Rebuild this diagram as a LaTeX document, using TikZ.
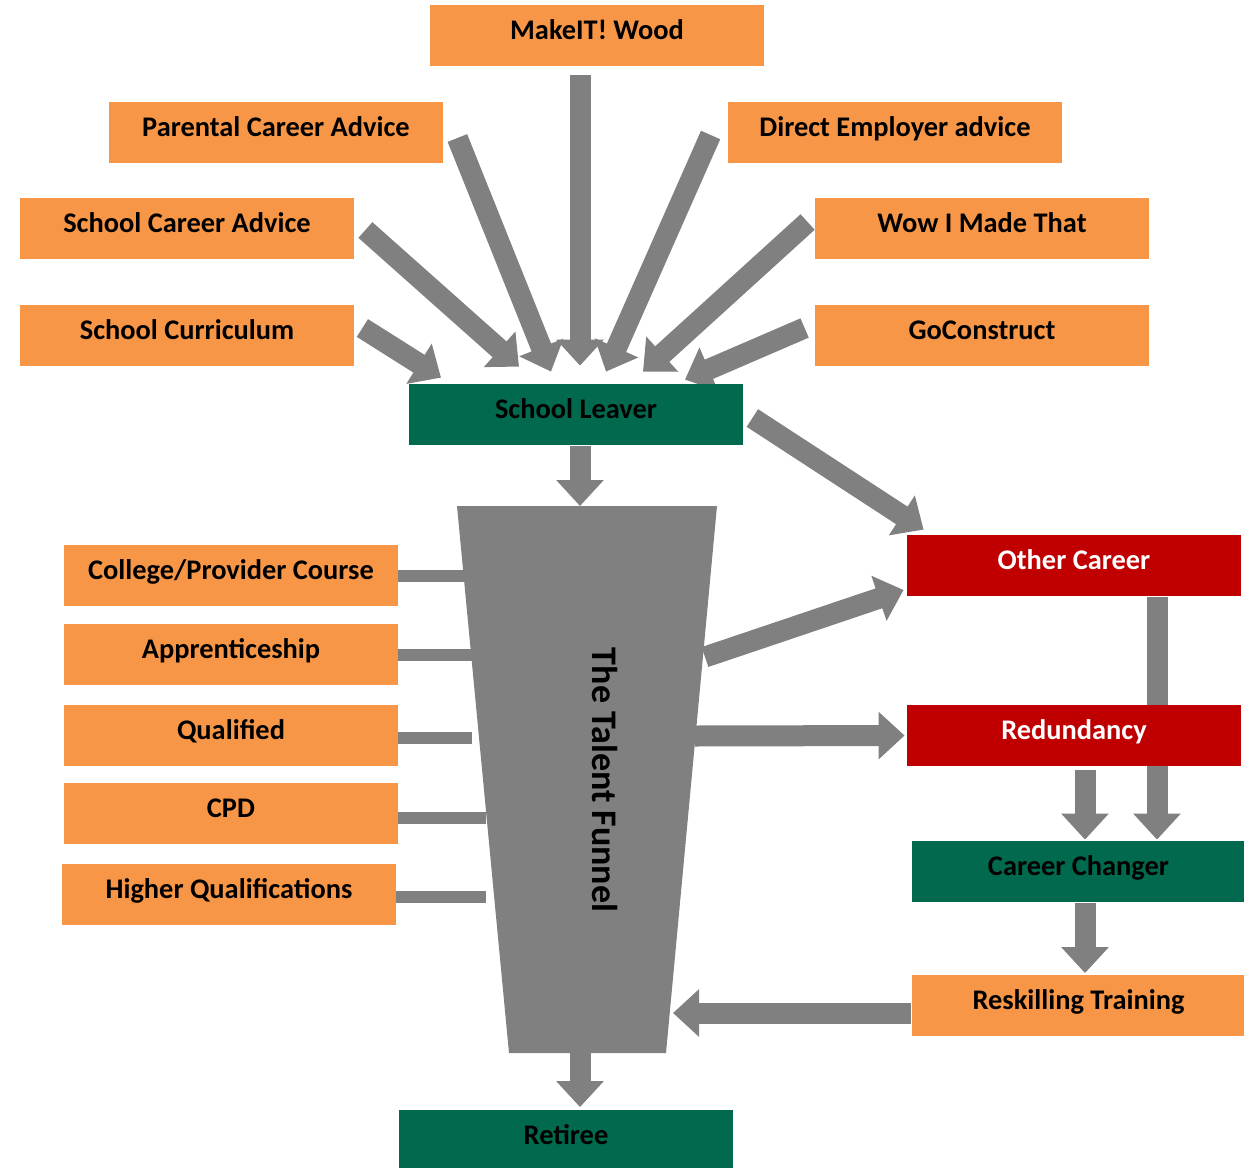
\documentclass[tikz,border=0pt]{standalone}
\usepackage{fontspec}
\setmainfont{Carlito}
\usetikzlibrary{arrows.meta,backgrounds}

\definecolor{BoxOrange}{HTML}{F79646}
\definecolor{BoxGreen}{HTML}{00694E}
\definecolor{BoxRed}{HTML}{C00000}
\definecolor{FlowGray}{HTML}{808080}

\begin{document}
\begin{tikzpicture}[
    x=0.5pt,y=-0.5pt,
    Box/.style={minimum width=167pt,minimum height=30.5pt,inner sep=0pt,text height=0.7em,text depth=0.3em,font=\fontsize{14.2}{17}\selectfont\bfseries},
    Source/.style={Box,fill=BoxOrange},
    Stage/.style={Box,fill=BoxGreen},
    Exit/.style={Box,fill=BoxRed,text=white},
    Flow/.style={draw=FlowGray,line width=10.5pt,-{Triangle[width=23pt,length=13pt]}},
    Feed/.style={draw=FlowGray,line width=6pt},
    ]

    \useasboundingbox (0,0) rectangle (1244,1168);

    \node[Source] (mw)  at (597,35.5)   {MakeIT! Wood};
    \node[Source] (pca) at (276,132.5)  {Parental Career Advice};
    \node[Source] (dea) at (895,132.5)  {Direct Employer advice};
    \node[Source] (sca) at (187,228.5)  {School Career Advice};
    \node[Source] (wow) at (982,228.5)  {Wow I Made That};
    \node[Source] (scu) at (187,335.5)  {School Curriculum};
    \node[Source] (goc) at (982,335.5)  {GoConstruct};

    \node[Stage]  (sl)  at (576,414.5)  {School Leaver};
    \node[Exit]   (oc)  at (1074,565.5) {Other Career};
    \node[Exit]   (red) at (1074,735.5) {Redundancy};
    \node[Stage]  (cc)  at (1078.5,871.5) {Career Changer};
    \node[Source] (rt)  at (1078.5,1005)  {Reskilling Training};
    \node[Stage]  (ret) at (566,1140)   {Retiree};

    \node[Source] (cpc) at (231,575.5)  {College/Provider Course};
    \node[Source] (app) at (231,654.5)  {Apprenticeship};
    \node[Source] (qua) at (231,735.5)  {Qualified};
    \node[Source] (cpd) at (231,813.5)  {CPD};
    \node[Source] (hq)  at (229,894.5)  {Higher Qualifications};

    \begin{pgfonlayer}{background}
      \fill[FlowGray] (457,506) -- (717,506) -- (666,1053) -- (509,1053) -- cycle;
      \coordinate (f-in)  at (580,506);
      \coordinate (f-oc)  at (705,657);
      \coordinate (f-red) at (695,736);
      \coordinate (f-rt)  at (673,1013);
      \coordinate (f-out) at (580,1053);

      \draw[Flow] ([shift={(-17,9)}]mw.south)   -- ([shift={(4,-18)}]sl.north);
      \draw[Flow] ([shift={(14,5.5)}]pca.east)  -- ([shift={(-25,-12)}]sl.north);
      \draw[Flow] ([shift={(-17,2.5)}]dea.west) -- ([shift={(30,-12)}]sl.north);
      \draw[Flow] ([shift={(11,1.5)}]sca.east)  -- ([shift={(-57,-17)}]sl.north);
      \draw[Flow] ([shift={(-7,-6.5)}]wow.west) -- ([shift={(67,-12)}]sl.north);
      \draw[Flow] ([shift={(8,-7.5)}]scu.east)  -- ([shift={(-135,-6)}]sl.north);
      \draw[Flow] ([shift={(-10,-7.5)}]goc.west) -- ([shift={(109,-4)}]sl.north);

      \draw[Flow] ([shift={(4,1)}]sl.south)     -- (f-in);
      \draw[Flow] ([shift={(9,3.5)}]sl.east)    -- ([shift={(17,-5)}]oc.north west);
      \draw[Flow] (f-oc)  -- ([shift={(-3,24.5)}]oc.west);
      \draw[Flow] (f-red) -- ([xshift=-1pt]red.west);
      \draw[Flow] ([shift={(83,1)}]oc.south)    -- ([shift={(78.5,-1)}]cc.north);
      \draw[Flow] ([shift={(11,4)}]red.south)   -- ([shift={(6.5,-1)}]cc.north);
      \draw[Flow] ([shift={(6.5,1)}]cc.south)   -- ([shift={(6.5,-1)}]rt.north);
      \draw[Flow] ([shift={(0,8)}]rt.west)      -- (f-rt);
      \draw[Flow] (f-out) -- ([shift={(14,-2)}]ret.north);

      \draw[Feed] (cpc.east) -- ++(67,0);
      \draw[Feed] (app.east) -- ++(74,0);
      \draw[Feed] ([yshift=-1pt]qua.east) -- ++(74,0);
      \draw[Feed] ([yshift=-2pt]cpd.east) -- ++(88,0);
      \draw[Feed] ([yshift=-1pt]hq.east)  -- ++(90,0);
    \end{pgfonlayer}

    \node[rotate=-90,font=\fontsize{18}{21}\selectfont\bfseries] (funnel) at (605,780) {The Talent Funnel};
  \end{tikzpicture}
\end{document}
